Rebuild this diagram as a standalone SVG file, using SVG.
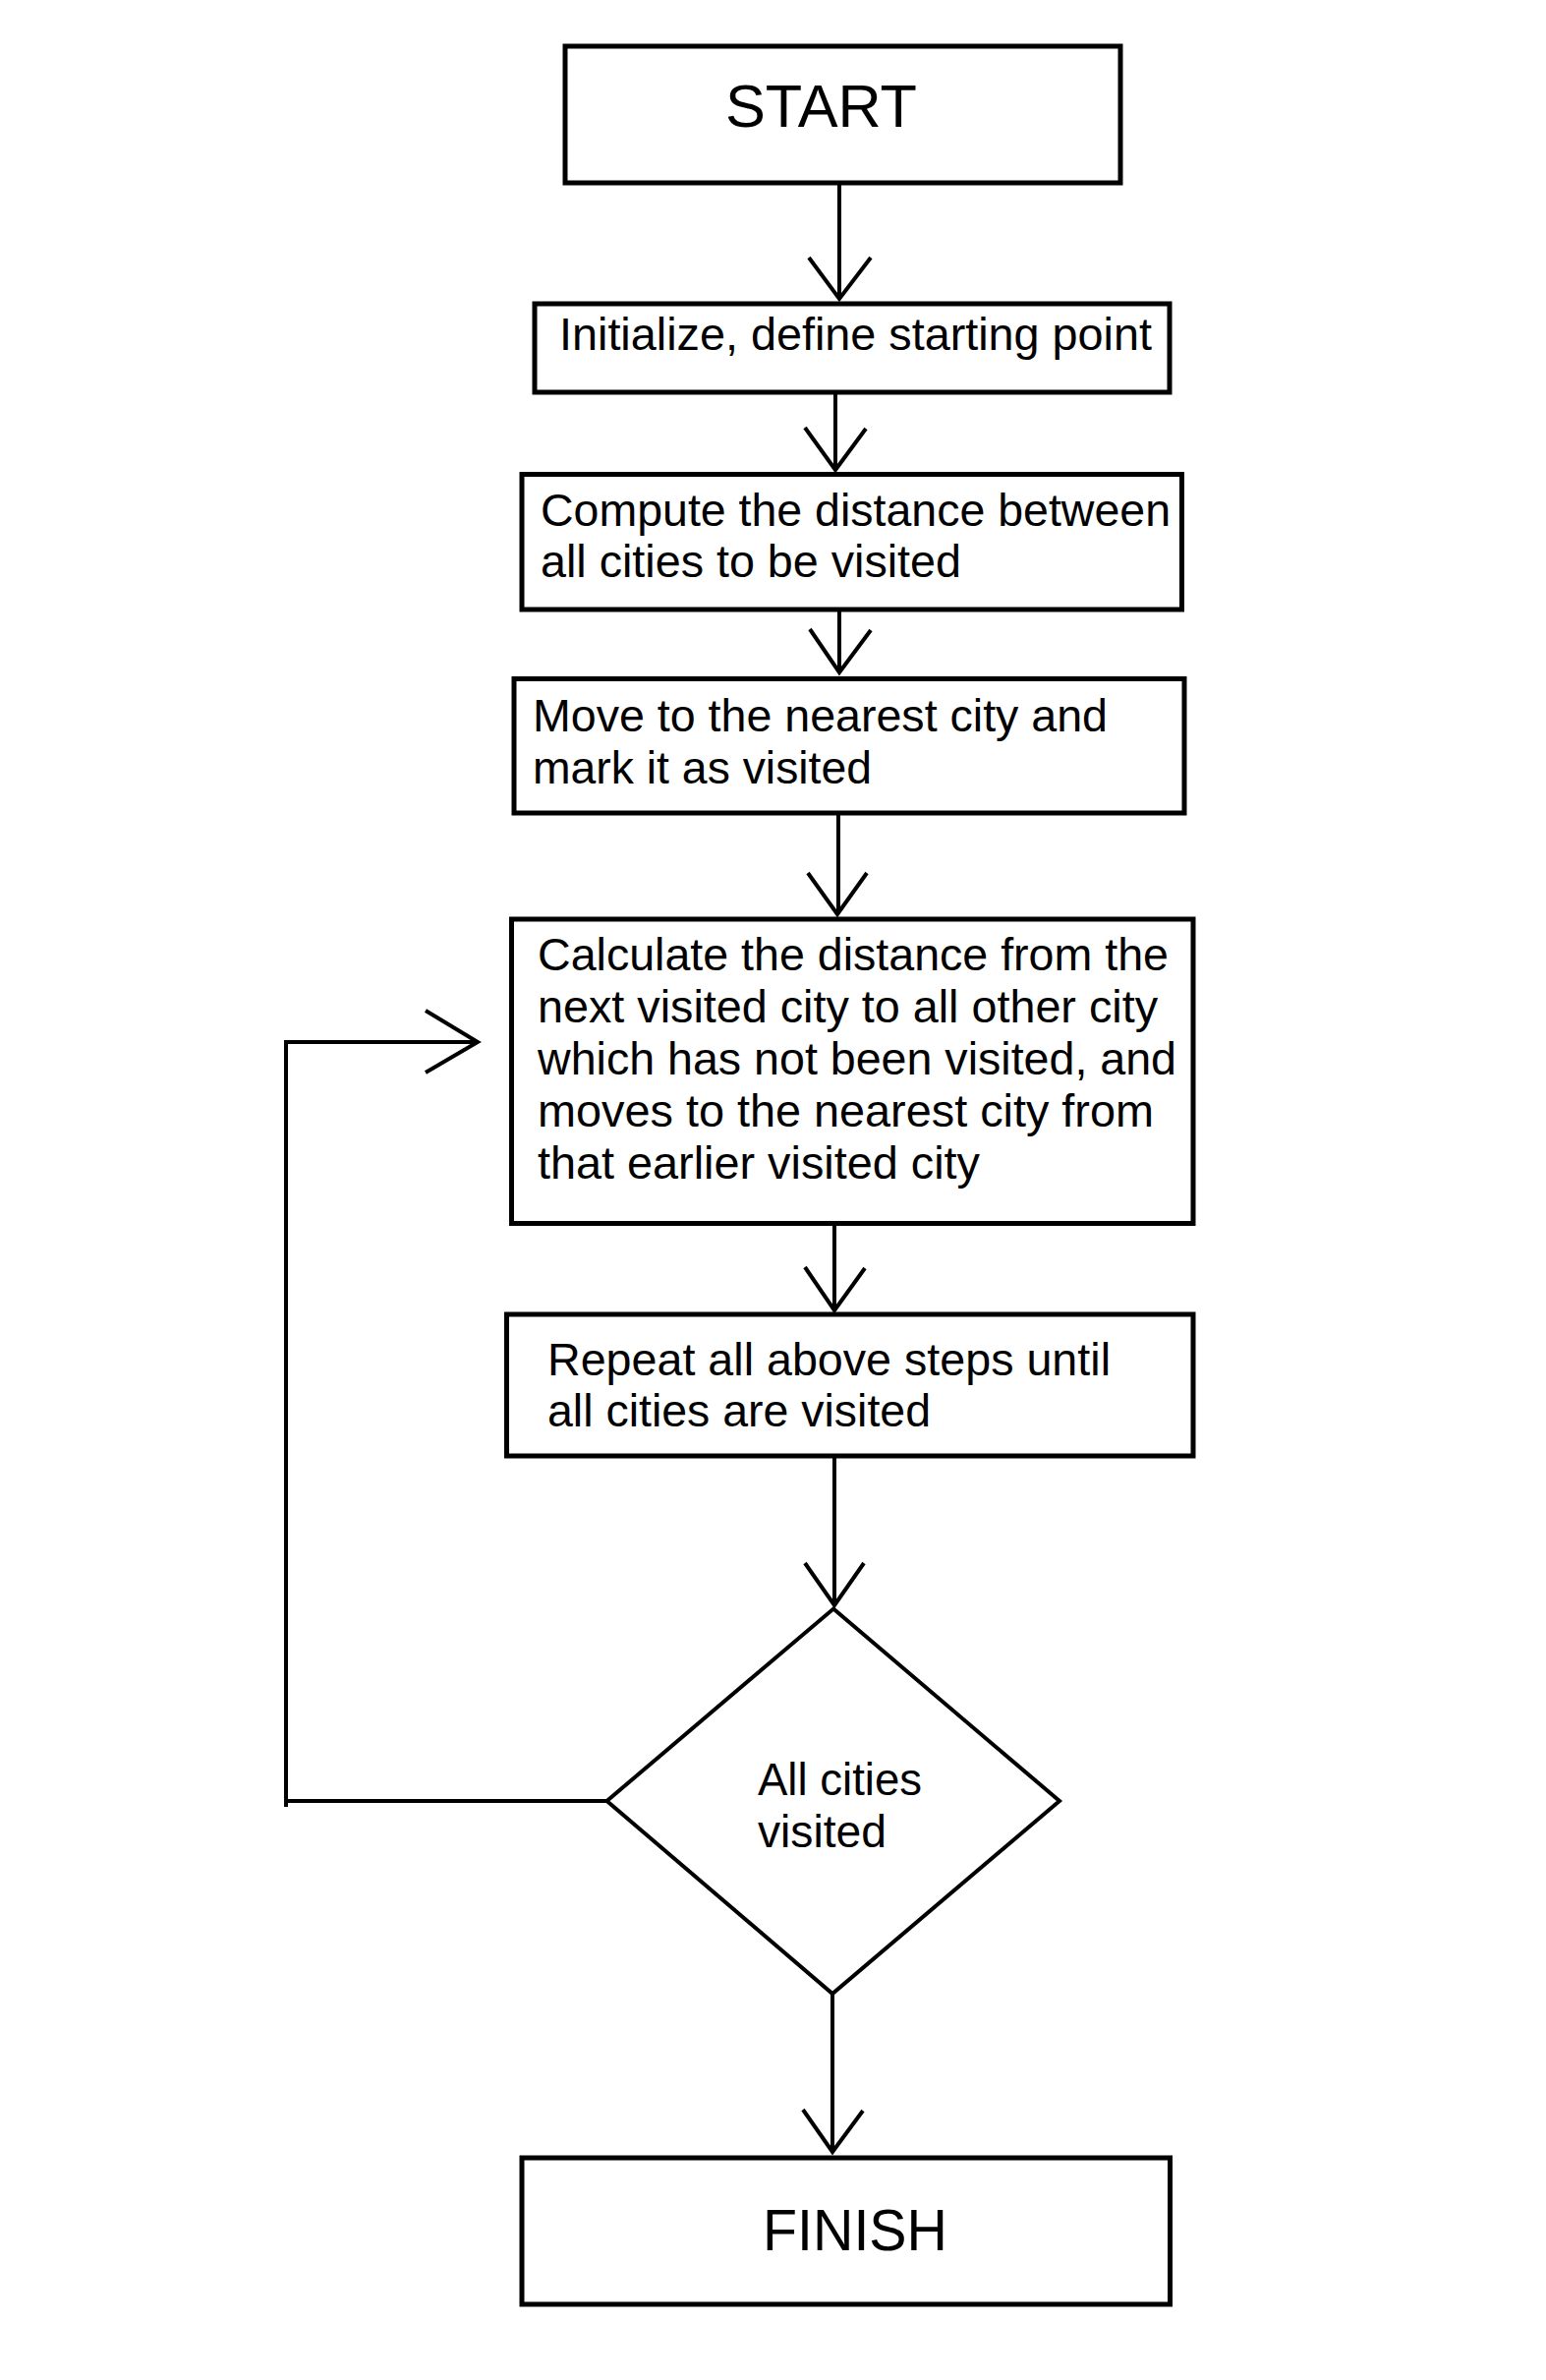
<svg xmlns="http://www.w3.org/2000/svg" width="1573" height="2421" viewBox="0 0 1573 2421">
<style>
.box{fill:#fff;stroke:#000;stroke-width:5}
.dia{fill:#fff;stroke:#000;stroke-width:4;stroke-linejoin:miter}
.t{font-family:"Liberation Sans",Arial,sans-serif;font-size:47px;fill:#000}
.big{font-family:"Liberation Sans",Arial,sans-serif;font-size:61px;fill:#000}
.c{fill:none;stroke:#000;stroke-width:4}
</style>
<rect width="1573" height="2421" fill="#fff"/>
<g id="connectors">
<line class="c" x1="854" y1="188" x2="854" y2="303"/>
<polyline class="c" points="823,262 854,304 886,262"/>
<line class="c" x1="850" y1="400" x2="850" y2="477"/>
<polyline class="c" points="819,435 850,478 881,436"/>
<line class="c" x1="854" y1="622" x2="854" y2="683"/>
<polyline class="c" points="824,640 854,684 886,641"/>
<line class="c" x1="853" y1="829" x2="853" y2="929"/>
<polyline class="c" points="822,888 852,930 882,888"/>
<line class="c" x1="849" y1="1247" x2="849" y2="1332"/>
<polyline class="c" points="819,1289 849,1333 880,1290"/>
<line class="c" x1="849" y1="1483" x2="849" y2="1632"/>
<polyline class="c" points="819,1590 849,1633 879,1590"/>
<line class="c" x1="847" y1="2028" x2="847" y2="2188"/>
<polyline class="c" points="817,2146 847,2189 878,2147"/>
<path class="c" d="M617 1832 H291 M291 1838 V1060 H486"/>
<polyline class="c" points="433,1028 486,1060 433,1091"/>
</g>
<g id="start">
<rect class="box" x="575" y="47" width="565" height="139"/>
<text class="big" x="738" y="129" textLength="195" lengthAdjust="spacingAndGlyphs">START</text>
</g>
<g id="init">
<rect class="box" x="544" y="309" width="646" height="90"/>
<text class="t" x="569" y="356" textLength="603" lengthAdjust="spacingAndGlyphs">Initialize, define starting point</text>
</g>
<g id="compute">
<rect class="box" x="531" y="482.5" width="671.5" height="137.5"/>
<text class="t" x="550" y="535" textLength="641" lengthAdjust="spacingAndGlyphs">Compute the distance between</text>
<text class="t" x="550" y="587" textLength="428" lengthAdjust="spacingAndGlyphs">all cities to be visited</text>
</g>
<g id="move">
<rect class="box" x="523" y="690.5" width="682" height="136.5"/>
<text class="t" x="542" y="744" textLength="585" lengthAdjust="spacingAndGlyphs">Move to the nearest city and</text>
<text class="t" x="542" y="797" textLength="345" lengthAdjust="spacingAndGlyphs">mark it as visited</text>
</g>
<g id="calculate">
<rect class="box" x="520.5" y="935" width="693.5" height="309.5"/>
<text class="t" x="547" y="987" textLength="642" lengthAdjust="spacingAndGlyphs">Calculate the distance from the</text>
<text class="t" x="547" y="1040" textLength="631" lengthAdjust="spacingAndGlyphs">next visited city to all other city</text>
<text class="t" x="547" y="1093" textLength="650" lengthAdjust="spacingAndGlyphs">which has not been visited, and</text>
<text class="t" x="547" y="1146" textLength="627" lengthAdjust="spacingAndGlyphs">moves to the nearest city from</text>
<text class="t" x="547" y="1199" textLength="450" lengthAdjust="spacingAndGlyphs">that earlier visited city</text>
</g>
<g id="repeat">
<rect class="box" x="515.5" y="1337" width="698.5" height="144"/>
<text class="t" x="557" y="1399" textLength="573" lengthAdjust="spacingAndGlyphs">Repeat all above steps until</text>
<text class="t" x="557" y="1451" textLength="390" lengthAdjust="spacingAndGlyphs">all cities are visited</text>
</g>
<g id="decision">
<polygon class="dia" points="848,1636.5 1078,1832 847,2028 617.5,1832"/>
<text class="t" x="771" y="1826" textLength="167" lengthAdjust="spacingAndGlyphs">All cities</text>
<text class="t" x="771" y="1879" textLength="131" lengthAdjust="spacingAndGlyphs">visited</text>
</g>
<g id="finish">
<rect class="box" x="531" y="2195" width="659.5" height="149"/>
<text class="big" x="776" y="2289" style="font-size:59px" textLength="188" lengthAdjust="spacingAndGlyphs">FINISH</text>
</g>
</svg>
